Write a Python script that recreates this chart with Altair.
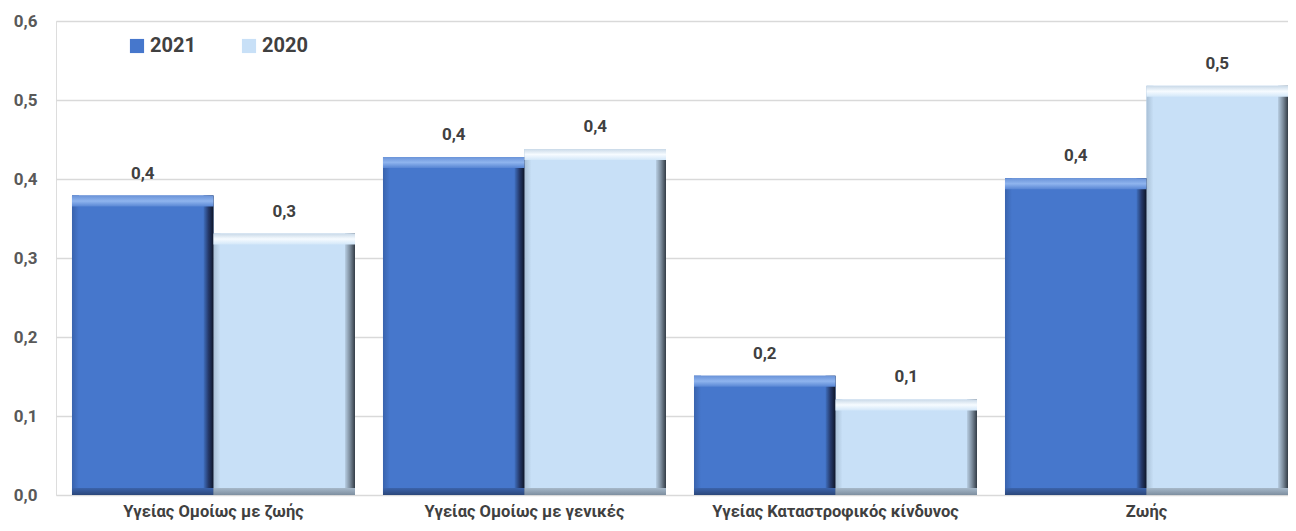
import altair as alt
import pandas as pd

categories = ["Υγείας Ομοίως με ζωής", "Υγείας Ομοίως με γενικές",
              "Υγείας Καταστροφικός κίνδυνος", "Ζωής"]
series = ["2021", "2020"]
values_2021 = [0.379, 0.428, 0.151, 0.401]
values_2020 = [0.331, 0.438, 0.121, 0.518]

rows = []
for c, v in zip(categories, values_2021):
    rows.append({"cat": c, "series": "2021", "value": v})
for c, v in zip(categories, values_2020):
    rows.append({"cat": c, "series": "2020", "value": v})
df = pd.DataFrame(rows)

W, H = 1232, 474
PAD_IN = 0.09
PAD_OUT = 0.0257
step = W / (4 - PAD_IN + 2 * PAD_OUT)
BW = step * (1 - PAD_IN) / 2
LSIDE = 7
RSIDE = 10
TOPE = 11
BOTE = 7
FONT = "Roboto"
TXT = "#404040"

x_enc = alt.X("cat:N", sort=categories,
              scale=alt.Scale(paddingInner=PAD_IN, paddingOuter=PAD_OUT, align=1),
              axis=alt.Axis(title=None, domain=False, ticks=False, labelAngle=0,
                            labelFont=FONT, labelFontSize=16.5, labelFontWeight="bold",
                            labelColor=TXT, labelPadding=8, labelLimit=400))
x_plain = alt.X("cat:N", sort=categories)
xo = alt.XOffset("series:N", sort=series, scale=alt.Scale(paddingInner=0))


def edge_offset(width, at_right):
    p = 1 - width / BW
    rng = [BW - width, 2 * BW] if at_right else [0, BW + width]
    return alt.XOffset("series:N", sort=series,
                       scale=alt.Scale(range=rng, paddingInner=p, paddingOuter=0))


y_enc = alt.Y("value:Q", scale=alt.Scale(domain=[0, 0.6], nice=False),
              axis=alt.Axis(title=None, values=[0, 0.1, 0.2, 0.3, 0.4, 0.5, 0.6],
                            labelExpr="replace(format(datum.value, '.1f'), '.', ',')",
                            domain=False, ticks=False, gridColor="#D9D9D9", gridWidth=1.5,
                            labelFont=FONT, labelFontSize=17, labelFontWeight="bold",
                            labelColor="#595959", labelPadding=19))

base = alt.Chart(df)

bars = base.mark_bar().encode(
    x=x_enc, xOffset=xo, y=y_enc, y2=alt.datum(0),
    color=alt.Color("series:N", sort=series,
                    scale=alt.Scale(domain=series, range=["#4677CC", "#C8E0F7"]),
                    legend=alt.Legend(title=None, orient="none", direction="horizontal",
                                      legendX=71, legendY=15, symbolType="square",
                                      symbolSize=200, symbolStrokeWidth=0,
                                      labelFont=FONT, labelFontSize=20, labelFontWeight="bold",
                                      labelColor=TXT, labelOffset=3, columnPadding=43)),
)

is21 = "datum.series == '2021'"


def grad(stops, horizontal):
    n = len(stops) - 1
    g = {"gradient": "linear",
         "stops": [{"offset": i / n, "color": c} for i, c in enumerate(stops)]}
    if horizontal:
        g.update({"x1": 0, "y1": 0, "x2": 1, "y2": 0})
    else:
        g.update({"x1": 0, "y1": 0, "x2": 0, "y2": 1})
    return g


def cond(v21, v20):
    return alt.condition(is21, alt.value(v21), alt.value(v20))


left = base.mark_bar().encode(
    x=x_plain, xOffset=edge_offset(LSIDE, False), y="value:Q", y2=alt.datum(0),
    color=cond(grad(["#3963AD", "#4677CC"], True), grad(["#A9C0D6", "#C8E0F7"], True)))
right = base.mark_bar().encode(
    x=x_plain, xOffset=edge_offset(RSIDE, True), y="value:Q", y2=alt.datum(0),
    color=cond(grad(["#4070C0", "#25396A", "#0E1628"], True),
               grad(["#B8CEE3", "#7C8C9C", "#333C46"], True)))
top = base.mark_bar(y2Offset=TOPE).encode(
    x=x_plain, xOffset=xo, y="value:Q", y2="value:Q",
    color=cond(grad(["#6A93D8", "#8FB4EE", "#5886D4"], False),
               grad(["#C9D9E8", "#F6FBFF", "#D3E7F9"], False)))
bottom = base.mark_bar(yOffset=-BOTE).encode(
    x=x_plain, xOffset=xo, y=alt.datum(0), y2=alt.datum(0),
    color=cond(grad(["#3B63AB", "#2B477A"], False), grad(["#A6B8C9", "#7E8FA0"], False)))

labels = base.transform_calculate(
    label="replace(format(datum.value, '.1f'), '.', ',')"
).mark_text(dy=-17, baseline="alphabetic", font=FONT, fontSize=17, fontWeight="bold",
            color=TXT).encode(
    x=x_plain, xOffset=xo, y="value:Q", text="label:N")

chart = alt.layer(bars, left, right, top, bottom, labels).resolve_scale(
    xOffset="independent"
).properties(
    width=W, height=H,
    autosize=alt.AutoSizeParams(type="none"),
    padding={"left": 48, "top": 13, "right": 0, "bottom": 28},
).configure_view(stroke=None).configure(background="white")

chart.save("out.html", embed_options={"renderer": "svg", "actions": False})
